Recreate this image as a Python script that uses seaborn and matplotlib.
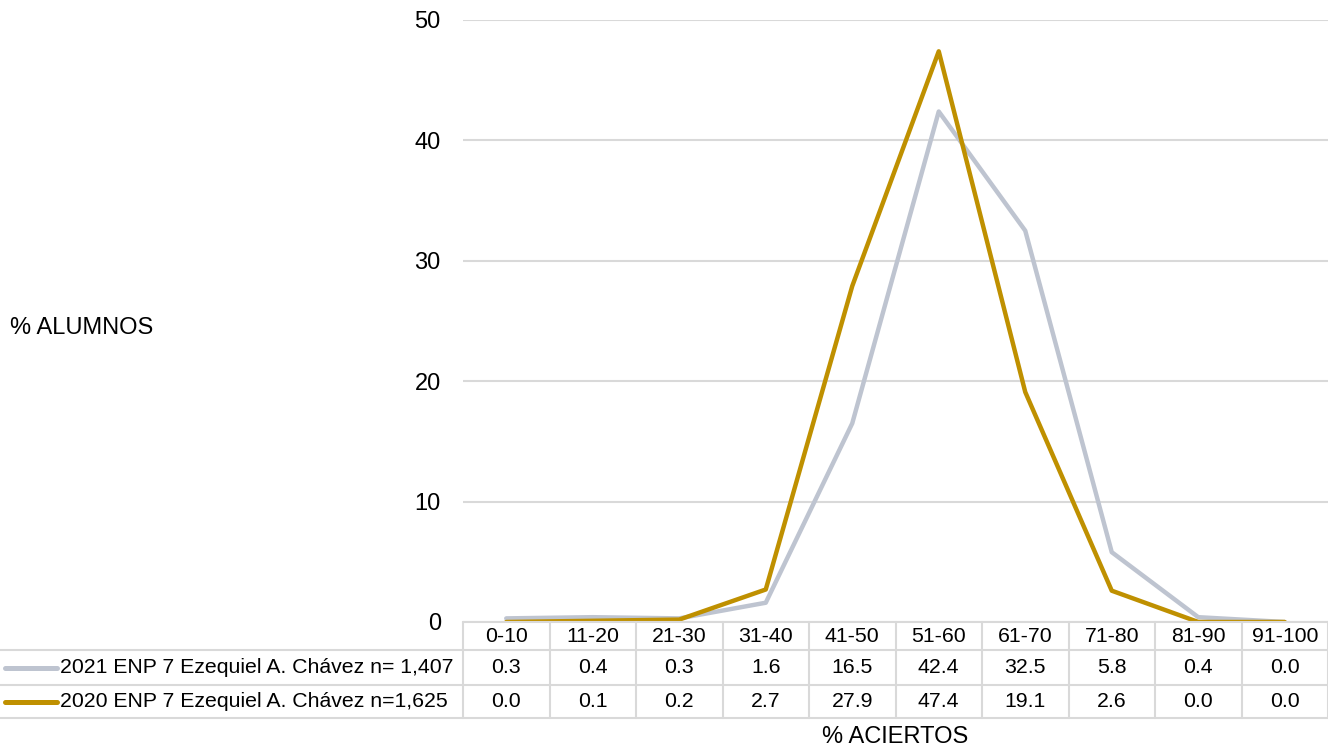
import numpy as np
import pandas as pd
import matplotlib
matplotlib.use("Agg")
import matplotlib.pyplot as plt
import matplotlib.transforms as mtransforms
from matplotlib.lines import Line2D
import seaborn as sns

categories = ["0-10", "11-20", "21-30", "31-40", "41-50", "51-60",
              "61-70", "71-80", "81-90", "91-100"]
series_names = ["2021 ENP 7 Ezequiel A. Chávez n= 1,407",
                "2020 ENP 7 Ezequiel A. Chávez n=1,625"]
values_2021 = [0.3, 0.4, 0.3, 1.6, 16.5, 42.4, 32.5, 5.8, 0.4, 0.0]
values_2020 = [0.0, 0.1, 0.2, 2.7, 27.9, 47.4, 19.1, 2.6, 0.0, 0.0]
y_ticks = [0, 10, 20, 30, 40, 50]
colors = ["#BEC4D0", "#BF9000"]
grid_color = "#D9D9D9"

W, H = 1328, 746

sns.set_theme(style="white")
plt.rcParams["font.family"] = ["Liberation Sans", "DejaVu Sans"]
plt.rcParams["text.color"] = "black"
fs_table = 15.3
fs_axis = 17

df = pd.DataFrame({
    "pos": list(range(len(categories))) * 2,
    "pct": values_2021 + values_2020,
    "serie": [series_names[0]] * len(categories) + [series_names[1]] * len(categories),
})

fig = plt.figure(figsize=(W / 100, H / 100), dpi=100)
left, right, top, bottom = 463, 1328, 20, 622
ax = fig.add_axes([left / W, 1 - bottom / H, (right - left) / W, (bottom - top) / H])

sns.lineplot(data=df, x="pos", y="pct", hue="serie", palette=colors,
             linewidth=3.2, legend=False, ax=ax, zorder=3)

ax.set_xlim(-0.5, len(categories) - 0.5)
ax.set_ylim(0, 50)
ax.set_yticks(y_ticks)
ax.set_yticklabels([str(t) for t in y_ticks], fontsize=fs_axis, color="black")
ax.set_xticks([])
ax.set_xlabel("")
ax.set_ylabel("")
ax.tick_params(axis="y", length=0, pad=16)
for s in ax.spines.values():
    s.set_visible(False)
for t in y_ticks:
    ax.axhline(t, color=grid_color, linewidth=1.5, zorder=1)

# data table under the plot
def fy(py):
    return 1 - py / H

trans = mtransforms.blended_transform_factory(ax.transData, fig.transFigure)
rows_y = [622, 650, 685, 718]
lw = 1.5

fig.add_artist(Line2D([-0.5, len(categories) - 0.5], [fy(rows_y[0])] * 2,
                      transform=trans, color=grid_color, linewidth=lw))
for ry in rows_y[1:]:
    fig.add_artist(Line2D([0, 1], [fy(ry)] * 2, transform=fig.transFigure,
                          color=grid_color, linewidth=lw))
for i in range(len(categories) + 1):
    fig.add_artist(Line2D([i - 0.5, i - 0.5], [fy(rows_y[0]), fy(rows_y[-1])],
                          transform=trans, color=grid_color, linewidth=lw))

row_centers = [(rows_y[k] + rows_y[k + 1]) / 2 for k in range(3)]
for i, cat in enumerate(categories):
    fig.text(i, fy(row_centers[0]), cat, transform=trans, ha="center",
             va="center", fontsize=fs_table)
    fig.text(i, fy(row_centers[1]), f"{values_2021[i]:.1f}", transform=trans,
             ha="center", va="center", fontsize=fs_table)
    fig.text(i, fy(row_centers[2]), f"{values_2020[i]:.1f}", transform=trans,
             ha="center", va="center", fontsize=fs_table)

for k, name in enumerate(series_names):
    cy = fy(row_centers[k + 1])
    fig.add_artist(Line2D([5 / W, 57 / W], [cy, cy], transform=fig.transFigure,
                          color=colors[k], linewidth=3.6, solid_capstyle="round"))
    fig.text(60 / W, cy, name, ha="left", va="center", fontsize=fs_table)

fig.text(10 / W, fy(328), "% ALUMNOS", ha="left", va="center", fontsize=fs_axis)
fig.text((left + right) / 2 / W, fy(737), "% ACIERTOS", ha="center",
         va="center", fontsize=fs_axis)

fig.savefig("out.png", dpi=100, facecolor="white")
